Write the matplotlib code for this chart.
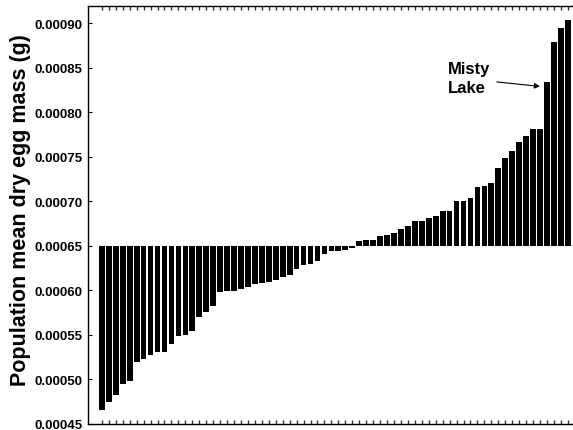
import matplotlib
matplotlib.use("Agg")
import matplotlib.pyplot as plt
import numpy as np

plt.rcParams['font.family'] = ['Liberation Sans', 'DejaVu Sans']

baseline = 0.00065
egg_mass = [
    0.000465, 0.000474, 0.000482, 0.000495, 0.0004985, 0.000519, 0.000523, 0.000527,
    0.000531, 0.000531, 0.0005395, 0.000549, 0.000550, 0.0005545, 0.000570, 0.000576,
    0.000582, 0.000598, 0.000599, 0.000599, 0.0006015, 0.0006035, 0.0006065, 0.0006076,
    0.0006087, 0.0006117, 0.0006147, 0.0006166, 0.0006237, 0.0006278, 0.0006297, 0.0006327,
    0.000641, 0.0006436, 0.0006436, 0.0006455, 0.0006477, 0.0006556, 0.0006568, 0.0006568,
    0.0006605, 0.0006624, 0.0006643, 0.0006688, 0.000672, 0.000678, 0.000678, 0.000681,
    0.000683, 0.000689, 0.000689, 0.000700, 0.0007003, 0.000704, 0.000716, 0.000717,
    0.000720, 0.000737, 0.000749, 0.000756, 0.000767, 0.000773, 0.000781, 0.000781,
    0.000834, 0.000879, 0.000895, 0.000904,
]
yticks = [0.00045, 0.00050, 0.00055, 0.00060, 0.00065, 0.00070, 0.00075, 0.00080, 0.00085, 0.00090]
ylabel = "Population mean dry egg mass (g)"
annot_label = "Misty\nLake"
misty_index = 64

fig = plt.figure(figsize=(5.73, 4.31), dpi=100)
ax = fig.add_axes([88/573, 1 - 424.7/431, (572 - 88)/573, (424.7 - 7.3)/431])

x = np.arange(len(egg_mass))
vals = np.array(egg_mass)
ax.bar(x, vals - baseline, bottom=baseline, width=0.82, color='black', linewidth=0, zorder=2)

ax.set_xlim(-2.0, 67.6)
ax.set_ylim(0.00045, 0.000919)
ax.set_yticks(yticks)
ax.set_yticklabels([f"{t:.5f}" for t in yticks], fontsize=9.5, fontweight='bold')
ax.set_xticks(x)
ax.set_xticklabels([])
ax.tick_params(axis='x', direction='in', length=3, width=1.0, top=True, bottom=True,
               color='#333333')
ax.tick_params(axis='y', direction='in', length=3, width=0.8, left=True, right=False, pad=4)
ax.spines['right'].set_visible(False)
for s in ['left', 'top', 'bottom']:
    ax.spines[s].set_linewidth(1.0)

ax.set_ylabel(ylabel, fontsize=15.5, fontweight='bold')
ax.yaxis.set_label_coords(-0.118, 0.515)

ax.text(49.7, 0.000857, annot_label, ha='left', va='top', fontsize=12, fontweight='bold',
        linespacing=1.3)
ax.annotate("", xy=(misty_index - 1.0, 0.000829), xytext=(56.8, 0.000834),
            arrowprops=dict(arrowstyle='-|>', lw=0.8, color='black', mutation_scale=8,
                            shrinkA=0, shrinkB=0))

fig.savefig("out.png", dpi=100)
